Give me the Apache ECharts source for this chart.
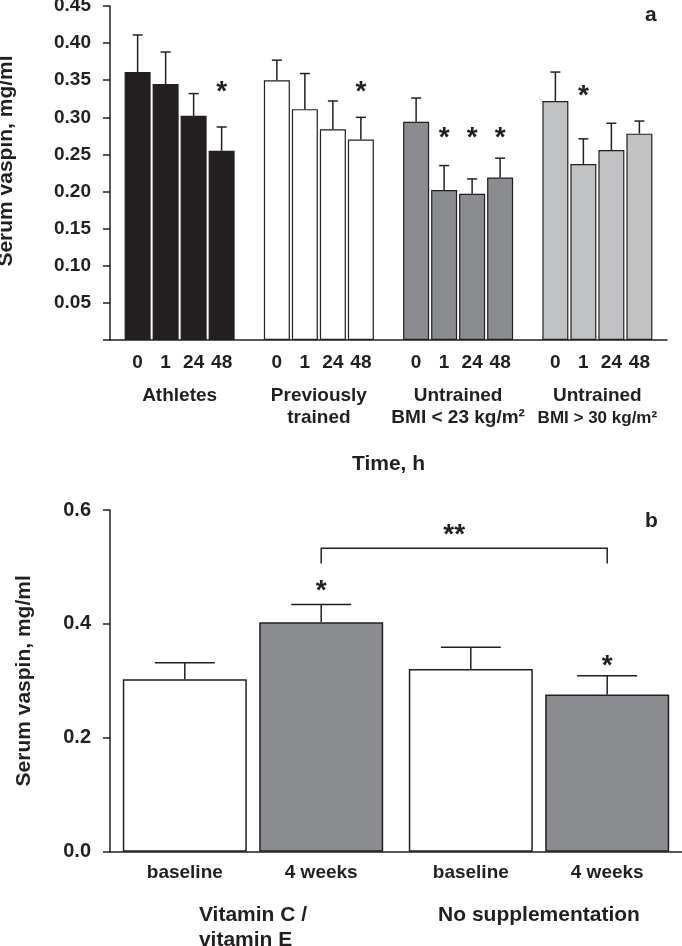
<!DOCTYPE html>
<html>
<head>
<meta charset="utf-8">
<script src="https://cdn.jsdelivr.net/npm/echarts@6.0.0/dist/echarts.min.js"></script>
<style>
  html, body { margin: 0; padding: 0; background: #ffffff; }
  #chart { width: 682px; height: 946px; }
</style>
</head>
<body>
<div id="chart"></div>
<script>
// ---------- Panel a data ----------
const groupsA = ['Athletes', 'Previously\ntrained', 'Untrained\nBMI < 23 kg/m²', 'Untrained\nBMI > 30 kg/m²'];
const timesA = ['0', '1', '24', '48'];
const yTicksA = [0, 0.05, 0.10, 0.15, 0.20, 0.25, 0.30, 0.35, 0.40, 0.45];

const athletesMean       = [0.361, 0.345, 0.302, 0.255];
const athletesErr        = [0.050, 0.043, 0.030, 0.032];
const prevTrainedMean    = [0.350, 0.311, 0.284, 0.270];
const prevTrainedErr     = [0.027, 0.048, 0.038, 0.030];
const untrainedLeanMean  = [0.294, 0.202, 0.197, 0.219];
const untrainedLeanErr   = [0.032, 0.033, 0.020, 0.026];
const untrainedObeseMean = [0.322, 0.237, 0.256, 0.278];
const untrainedObeseErr  = [0.039, 0.034, 0.036, 0.017];

// level of the significance asterisk (null = none)
const athletesSig       = [null, null, null, 0.337];
const prevTrainedSig    = [null, null, null, 0.337];
const untrainedLeanSig  = [null, 0.276, 0.276, 0.276];
const untrainedObeseSig = [null, 0.3315, null, null];

// ---------- Panel b data ----------
const groupsB = ['Vitamin C /\nvitamin E', 'No supplementation'];
const timepointsB = ['baseline', '4 weeks'];
const yTicksB = [0, 0.2, 0.4, 0.6];
const vitaminMean = [0.303, 0.403];
const vitaminErr  = [0.029, 0.031];
const noSuppMean  = [0.321, 0.276];
const noSuppErr   = [0.038, 0.033];
const vitaminSig  = [null, 0.463];
const noSuppSig   = [null, 0.331];
// bracket between 4-week bars: [group, timepoint] ends, level, drop, label level
const bracketFrom = [0, 1];
const bracketTo   = [1, 1];
const bracketLevels = [0.533, 0.506, 0.560];
const bracketLabel = '**';

// ---------- styling ----------
const INK = '#231f20';
const FONT = '"Liberation Sans", Arial, Helvetica, sans-serif';
const groupColorsA = ['#231f20', '#ffffff', '#8b8c8f', '#c1c2c4'];
const colorsB = ['#ffffff', '#8b8c8f'];
const BAR_A = 26, GAP_A = 2;
const BAR_B = 124, GAP_B = 12.4;
const STAR_SHIFT = 0.1;

const meansA = [athletesMean, prevTrainedMean, untrainedLeanMean, untrainedObeseMean];
const errsA  = [athletesErr, prevTrainedErr, untrainedLeanErr, untrainedObeseErr];
const sigsA  = [athletesSig, prevTrainedSig, untrainedLeanSig, untrainedObeseSig];
const meansB = [vitaminMean, noSuppMean];
const errsB  = [vitaminErr, noSuppErr];
const sigsB  = [vitaminSig, noSuppSig];

function errRenderer(step, capHalf) {
  return function (params, api) {
    const cat = api.value(0), mean = api.value(1), top = api.value(2);
    const slot = api.value(3), n = api.value(4);
    const b = api.coord([cat, mean]);
    const t = api.coord([cat, top]);
    const x = b[0] + (slot - (n - 1) / 2) * step;
    const st = { stroke: INK, lineWidth: 1.5 };
    return { type: 'group', children: [
      { type: 'line', shape: { x1: x, y1: b[1], x2: x, y2: t[1] }, style: st },
      { type: 'line', shape: { x1: x - capHalf, y1: t[1], x2: x + capHalf, y2: t[1] }, style: st }
    ]};
  };
}
function starRenderer(step, size) {
  return function (params, api) {
    const cat = api.value(0), lvl = api.value(1), slot = api.value(2), n = api.value(3);
    const p = api.coord([cat, lvl]);
    const x = p[0] + (slot - (n - 1) / 2) * step;
    return { type: 'text', style: { text: '*', x: x, y: p[1] + size * STAR_SHIFT, align: 'center', verticalAlign: 'middle',
      fontSize: size, fontWeight: 'bold', fontFamily: FONT, fill: INK } };
  };
}

// ---------- build series data ----------
const barSeriesA = timesA.map((t, ti) => ({
  type: 'bar', xAxisIndex: 0, yAxisIndex: 0,
  barWidth: BAR_A, barGap: (GAP_A / BAR_A * 100) + '%',
  data: groupsA.map((g, gi) => ({ value: meansA[gi][ti], itemStyle: { color: groupColorsA[gi] } })),
  itemStyle: { borderColor: INK, borderWidth: 1.2 },
  label: { show: true, position: 'bottom', distance: 13, formatter: () => t,
    fontSize: 19, fontWeight: 'bold', fontFamily: FONT, color: INK },
  z: 2
}));
const errDataA = [], starDataA = [];
groupsA.forEach((g, gi) => timesA.forEach((t, ti) => {
  errDataA.push([gi, meansA[gi][ti], meansA[gi][ti] + errsA[gi][ti], ti, timesA.length]);
  if (sigsA[gi][ti] != null) starDataA.push([gi, sigsA[gi][ti], ti, timesA.length]);
}));

const barSeriesB = timepointsB.map((tp, ti) => ({
  type: 'bar', xAxisIndex: 1, yAxisIndex: 1,
  barWidth: BAR_B, barGap: (GAP_B / BAR_B * 100) + '%',
  data: groupsB.map((g, gi) => meansB[gi][ti]),
  itemStyle: { color: colorsB[ti], borderColor: INK, borderWidth: 1.5 },
  label: { show: true, position: 'bottom', distance: 12, formatter: () => tp,
    fontSize: 19, fontWeight: 'bold', fontFamily: FONT, color: INK },
  z: 2
}));
const errDataB = [], starDataB = [];
groupsB.forEach((g, gi) => timepointsB.forEach((tp, ti) => {
  errDataB.push([gi, meansB[gi][ti], meansB[gi][ti] + errsB[gi][ti], ti, timepointsB.length]);
  if (sigsB[gi][ti] != null) starDataB.push([gi, sigsB[gi][ti], ti, timepointsB.length]);
}));

const axisLineStyle = { color: INK, width: 1.5 };
const tickFont = { fontSize: 19, fontWeight: 'bold', fontFamily: FONT, color: INK };

const option = {
  animation: false,
  backgroundColor: '#ffffff',
  textStyle: { fontFamily: FONT },
  grid: [
    { left: 110, right: 15, top: 6, height: 334, containLabel: false, outerBoundsMode: 'none' },
    { left: 110, right: 0, top: 510, height: 341.7, containLabel: false, outerBoundsMode: 'none' }
  ],
  xAxis: [
    { type: 'category', gridIndex: 0, data: groupsA,
      axisLine: { lineStyle: axisLineStyle }, axisTick: { show: false },
      axisLabel: Object.assign({ margin: 45, lineHeight: 22, interval: 0,
        formatter: (v, i) => i === 3 ? v.split('\n')[0] + '\n{s|' + v.split('\n')[1] + '}' : v,
        rich: { s: { fontSize: 17, fontWeight: 'bold', fontFamily: FONT, color: INK, lineHeight: 22 } } }, tickFont),
      name: 'Time, h', nameLocation: 'middle', nameGap: 114,
      nameTextStyle: { fontSize: 21, fontWeight: 'bold', fontFamily: FONT, color: INK }
    },
    { type: 'category', gridIndex: 1, data: groupsB,
      axisLine: { lineStyle: axisLineStyle }, axisTick: { show: false },
      axisLabel: { margin: 51, interval: 0, fontSize: 21, fontWeight: 'bold', fontFamily: FONT, color: INK, lineHeight: 25,
        formatter: (v) => v.split('\n').map(s => '{l|' + s + '}').join('\n'),
        rich: { l: { align: 'left', fontSize: 21, fontWeight: 'bold', fontFamily: FONT, color: INK, lineHeight: 25 } } }
    }
  ],
  yAxis: [
    { type: 'value', gridIndex: 0, min: yTicksA[0], max: yTicksA[yTicksA.length - 1], interval: yTicksA[1] - yTicksA[0],
      axisLine: { show: true, lineStyle: axisLineStyle },
      axisTick: { show: true, length: 7, lineStyle: axisLineStyle },
      splitLine: { show: false },
      axisLabel: Object.assign({ margin: 19, formatter: v => v === 0 ? '' : v.toFixed(2) }, tickFont),
      name: 'Serum vaspin, mg/ml', nameLocation: 'middle', nameGap: 93, nameRotate: 90,
      nameTextStyle: { fontSize: 21, fontWeight: 'bold', fontFamily: FONT, color: INK, padding: [0, 0, 0, 24] }
    },
    { type: 'value', gridIndex: 1, min: yTicksB[0], max: yTicksB[yTicksB.length - 1], interval: yTicksB[1] - yTicksB[0],
      axisLine: { show: true, lineStyle: axisLineStyle },
      axisTick: { show: true, length: 7, lineStyle: axisLineStyle },
      splitLine: { show: false },
      axisLabel: Object.assign({ margin: 19, formatter: v => v.toFixed(1) }, tickFont, { fontSize: 20 }),
      name: 'Serum vaspin, mg/ml', nameLocation: 'middle', nameGap: 75, nameRotate: 90,
      nameTextStyle: { fontSize: 21, fontWeight: 'bold', fontFamily: FONT, color: INK }
    }
  ],
  series: [].concat(barSeriesA, [
    { type: 'custom', xAxisIndex: 0, yAxisIndex: 0, renderItem: errRenderer(BAR_A + GAP_A, 5), data: errDataA, z: 3 },
    { type: 'custom', xAxisIndex: 0, yAxisIndex: 0, renderItem: starRenderer(BAR_A + GAP_A, 28), data: starDataA, z: 3 }
  ], barSeriesB, [
    { type: 'custom', xAxisIndex: 1, yAxisIndex: 1, renderItem: errRenderer(BAR_B + GAP_B, 30), data: errDataB, z: 3 },
    { type: 'custom', xAxisIndex: 1, yAxisIndex: 1, renderItem: starRenderer(BAR_B + GAP_B, 28), data: starDataB, z: 3 },
    { type: 'custom', xAxisIndex: 1, yAxisIndex: 1, z: 3,
      data: [[bracketFrom[0], bracketFrom[1], bracketTo[0], bracketTo[1], bracketLevels[0], bracketLevels[1], bracketLevels[2], timepointsB.length]],
      renderItem: function (params, api) {
        const n = api.value(7), step = BAR_B + GAP_B;
        const lvl = api.coord([0, api.value(4)])[1];
        const drop = api.coord([0, api.value(5)])[1];
        const lab = api.coord([0, api.value(6)])[1];
        const x1 = api.coord([api.value(0), 0])[0] + (api.value(1) - (n - 1) / 2) * step;
        const x2 = api.coord([api.value(2), 0])[0] + (api.value(3) - (n - 1) / 2) * step;
        return { type: 'group', children: [
          { type: 'polyline', shape: { points: [[x1, drop], [x1, lvl], [x2, lvl], [x2, drop]] },
            style: { stroke: INK, lineWidth: 1.5, fill: null } },
          { type: 'text', style: { text: bracketLabel, x: (x1 + x2) / 2 - 10, y: lab + 28 * STAR_SHIFT, align: 'center', verticalAlign: 'middle',
            fontSize: 28, fontWeight: 'bold', fontFamily: FONT, fill: INK } }
        ]};
      }
    }
  ]),
  graphic: [
    { type: 'text', left: 645, top: 5, style: { text: 'a', fontSize: 21, fontWeight: 'bold', fontFamily: FONT, fill: INK } },
    { type: 'text', left: 645, top: 511, style: { text: 'b', fontSize: 21, fontWeight: 'bold', fontFamily: FONT, fill: INK } }
  ]
};

const chart = echarts.init(document.getElementById('chart'), null, { renderer: 'canvas' });
chart.setOption(option);
</script>
</body>
</html>
